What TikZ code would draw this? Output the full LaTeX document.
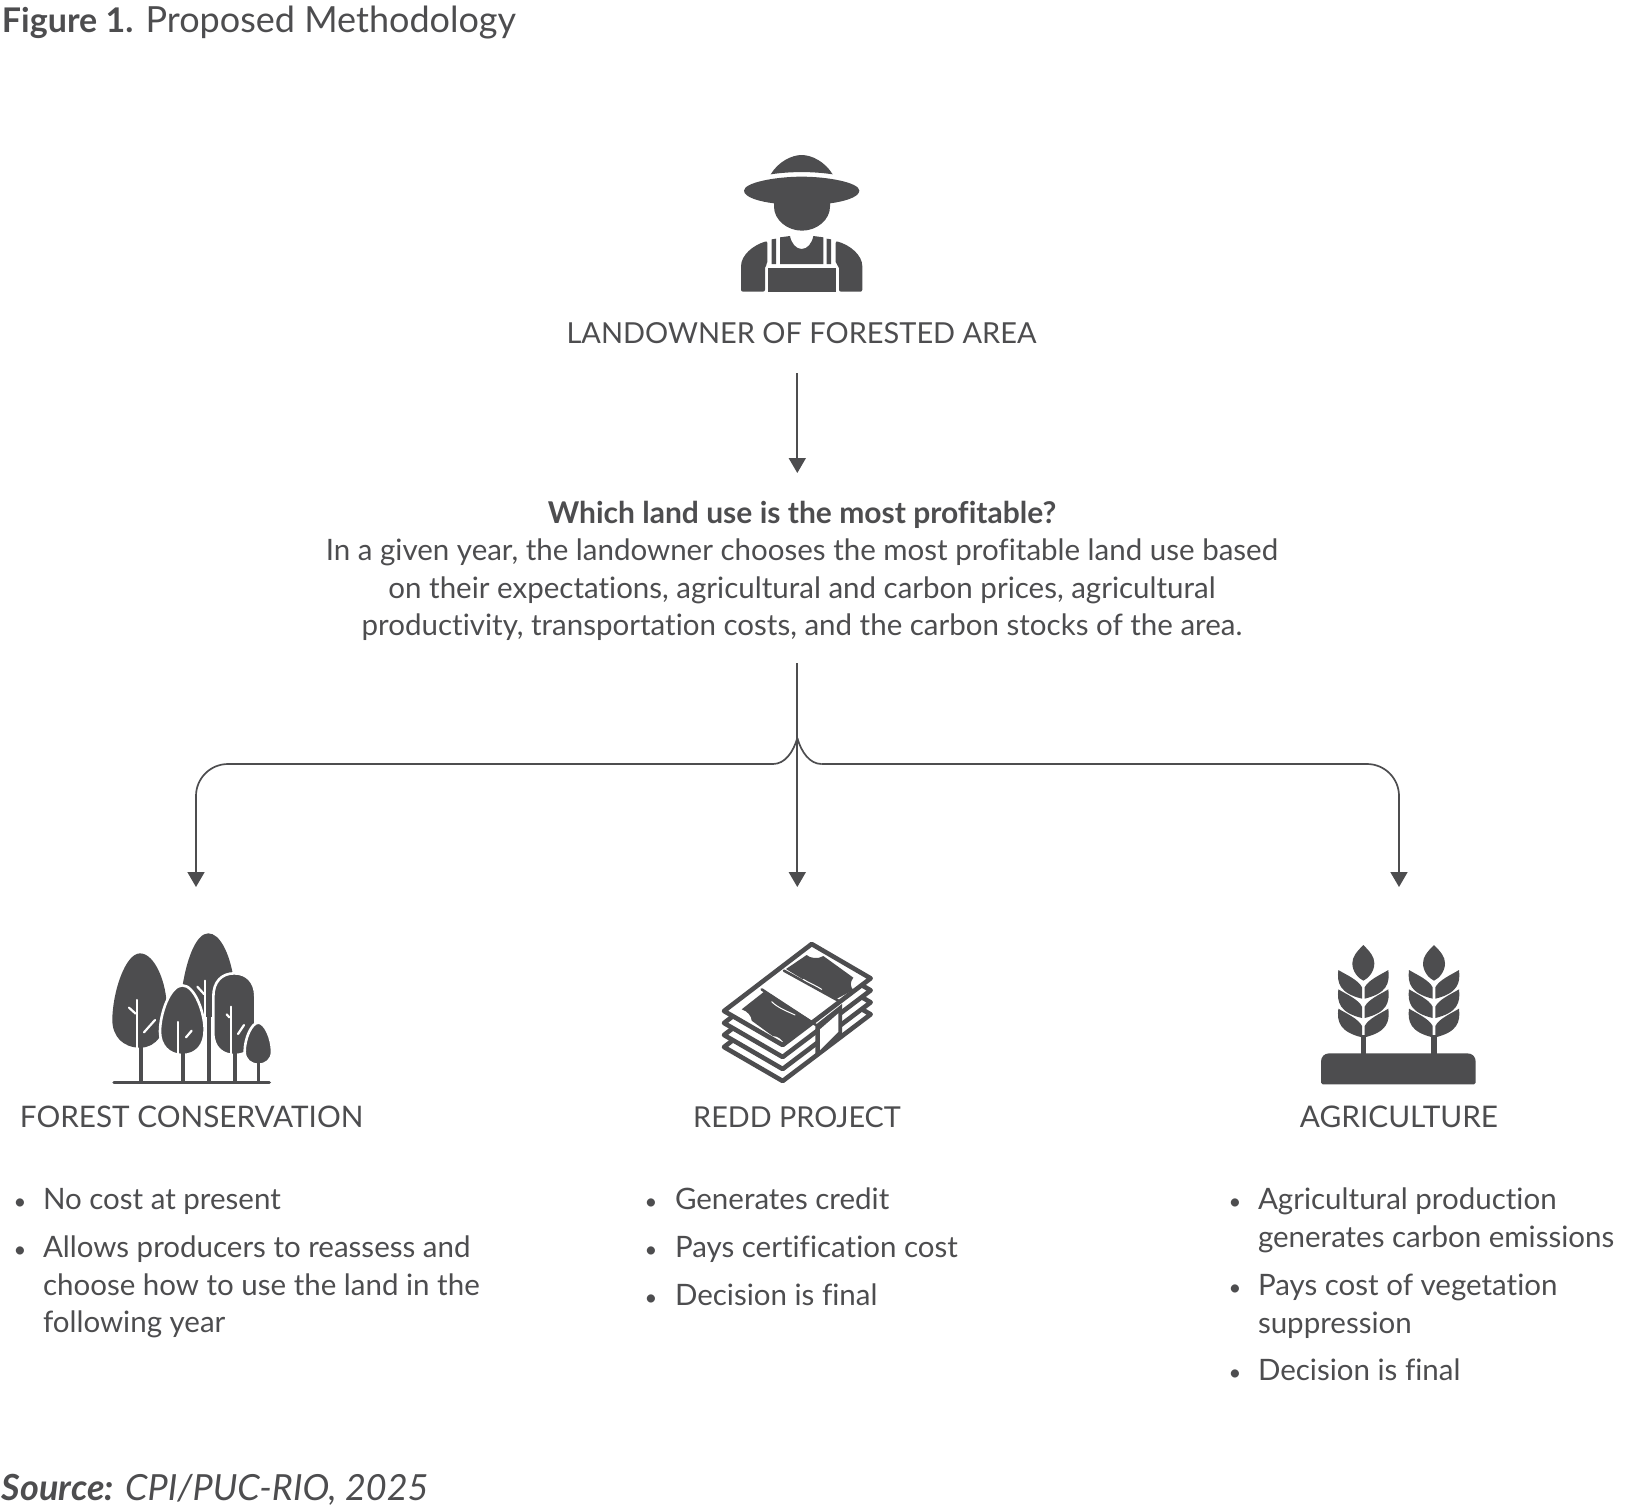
\documentclass[tikz,border=0pt]{standalone}
\usepackage{fontspec}
\setmainfont{Lato}[Ligatures=NoCommon]
\usetikzlibrary{arrows.meta}
\definecolor{ink}{HTML}{4D4D4F}
\newcommand{\bigbold}{\fontsize{15}{18.75}\selectfont\bfseries}
\tikzset{
  every node/.style={inner sep=0pt,outer sep=0pt,text=ink},
  conn/.style={draw=ink,line width=0.85pt},
  arrowconn/.style={conn,-{Triangle[width=8.5pt,length=7.5pt]}},
  titletext/.style={anchor=base west,font=\fontsize{18}{20}\selectfont},
  headtext/.style={anchor=base,font=\fontsize{#1}{18.75}\selectfont},
  bodytext/.style={anchor=north,align=center,font=\fontsize{14.75}{18.75}\selectfont},
  itemtext/.style={anchor=north west,align=left,font=\fontsize{14.75}{18.75}\selectfont},
  bulletmark/.style={anchor=base,font=\fontsize{11}{18.75}\selectfont},
  cutline/.style={draw=white,line width=1.1pt,line cap=round},
  outlined/.style={fill=ink,draw=white,line width=1.3pt},
  iconlocal/.style={scale=1/3},
  moneyline/.style={draw=ink,line width=2.3pt},
}
\begin{document}
\begin{tikzpicture}[x=0.5pt,y=-0.5pt]
\useasboundingbox (0,0) rectangle (1633,1511);

% ---- texts
\node[titletext] (title) at (2,32) {{\fontsize{17}{20}\selectfont\bfseries Figure 1.} Proposed Methodology};
\node[headtext=14.47] (owner) at (801.5,343) {LANDOWNER OF FORESTED AREA};
\node[bodytext] (question) at (802,497) {\strut{\bigbold Which land use is the most profitable?}\\
In a given year, the landowner chooses the most profitable land use based\\
on their expectations, agricultural and carbon prices, agricultural\\
productivity, transportation costs, and the carbon stocks of the area.};

\node[headtext=14.85] (forest) at (191.6,1127) {FOREST CONSERVATION};
\node[headtext=14.4] (redd) at (797,1127) {REDD PROJECT};
\node[headtext=14.9] (agri) at (1399,1127) {AGRICULTURE};

\node[bulletmark] (fb1) at (20,1209) {•};
\node[itemtext] (fi1) at (43,1183.5) {\strut No cost at present};
\node[bulletmark] (fb2) at (20,1257) {•};
\node[itemtext] (fi2) at (43,1231.5) {\strut Allows producers to reassess and\\choose how to use the land in the\\following year};

\node[bulletmark] (rb1) at (651,1209) {•};
\node[itemtext] (ri1) at (675,1183.5) {\strut Generates credit};
\node[bulletmark] (rb2) at (651,1257) {•};
\node[itemtext] (ri2) at (675,1231.5) {\strut Pays certification cost};
\node[bulletmark] (rb3) at (651,1305) {•};
\node[itemtext] (ri3) at (675,1279.5) {\strut Decision is final};

\node[bulletmark] (ab1) at (1235,1209) {•};
\node[itemtext] (ai1) at (1258,1183.5) {\strut Agricultural production\\generates carbon emissions};
\node[bulletmark] (ab2) at (1235,1295) {•};
\node[itemtext] (ai2) at (1258,1269.5) {\strut Pays cost of vegetation\\suppression};
\node[bulletmark] (ab3) at (1235,1380) {•};
\node[itemtext] (ai3) at (1258,1354.5) {\strut Decision is final};

\node[titletext] (source) at (2,1500) {\itshape\textbf{Source:} CPI/PUC-RIO, 2025};

% ---- connectors
\coordinate (ownerout) at (797.3,373);
\coordinate (questionin) at (797.3,473);
\coordinate (questionout) at (797.3,663);
\coordinate (fork) at (797.3,738);
\coordinate (forkleft) at (773,764);
\coordinate (forkright) at (821.6,764);
\coordinate (forestin) at (196,887);
\coordinate (reddin) at (797.3,887);
\coordinate (agriin) at (1399,887);
\coordinate (railleft) at (196,764);
\coordinate (railright) at (1399,764);

\draw[arrowconn] (ownerout) -- (questionin);
\draw[arrowconn] (questionout) -- (reddin);
\draw[conn] (fork) .. controls +(-4,14) and +(12,0) .. (forkleft);
\draw[conn] (fork) .. controls +(4,14) and +(-12,0) .. (forkright);
\draw[arrowconn,rounded corners=16pt] (forkleft) -- (railleft) -- (forestin);
\draw[arrowconn,rounded corners=16pt] (forkright) -- (railright) -- (agriin);

% ---- farmer
\begin{scope}[shift={(720,140)},iconlocal]
  \fill[ink] (152,103) .. controls (175,65) and (215,45) .. (245,45) .. controls (275,45) and (315,65) .. (338,103) .. controls (280,94) and (210,94) .. cycle;
  \fill[ink] (72,152) .. controls (72,128) and (165,110) .. (245,110) .. controls (325,110) and (418,128) .. (418,152) .. controls (418,172) and (370,185) .. (330,190)
     -- (330,200) .. controls (330,240) and (290,272) .. (246,272) .. controls (202,272) and (162,240) .. (162,200) -- (162,190) .. controls (120,185) and (72,172) .. (72,152) -- cycle;
  % left shoulder
  \fill[ink,rounded corners=1pt] (63,455) -- (63,385) .. controls (63,345) and (100,315) .. (142,303) -- (142,372) -- (135,378) -- (135,455) -- cycle;
  % right shoulder
  \fill[ink,rounded corners=1pt] (427,455) -- (427,385) .. controls (427,345) and (390,315) .. (347,303) -- (347,372) -- (357,378) -- (357,455) -- cycle;
  % straps
  \fill[ink] (155,298) -- (168,296) -- (168,372) -- (155,372) -- cycle;
  \fill[ink] (320,296) -- (333,298) -- (333,372) -- (320,372) -- cycle;
  % torso
  \fill[ink] (180,292) -- (210,288) .. controls (214,310) and (228,327) .. (245,327) .. controls (262,327) and (276,310) .. (280,288) -- (310,292) -- (310,372) -- (180,372) -- cycle;
  % bib
  \fill[ink] (145,385) rectangle (347,455);
\end{scope}

% ---- trees
\begin{scope}[shift={(100,920)},iconlocal]
  % back tree
  \fill[ink] (248,195) .. controls (262,110) and (290,40) .. (325,40) .. controls (360,40) and (388,100) .. (400,170) -- (400,300) -- (250,300) -- cycle;
  % tree 1
  \fill[ink] (120,100) .. controls (165,100) and (200,190) .. (200,260) .. controls (200,340) and (170,383) .. (120,383) .. controls (70,383) and (37,350) .. (37,300) .. controls (37,220) and (75,100) .. (120,100) -- cycle;
  \draw[cutline] (111,240) -- (111,388);
  \draw[cutline] (87,263) -- (107,281);
  \draw[cutline] (165,300) -- (132,337);
  \fill[ink] (116,375) rectangle (128,488);
  % back tree trunk
  \draw[cutline] (316,182) -- (316,300);
  \draw[cutline] (292,200) -- (312,222);
  \fill[ink] (322,180) rectangle (334,488);
  \fill[white] (316,290) rectangle (322,488);
  \fill[white] (334,290) rectangle (340,488);
  % tree 4
  \draw[outlined] (340,230) .. controls (340,185) and (365,160) .. (403,160) .. controls (440,160) and (466,185) .. (466,230) -- (466,340) .. controls (466,385) and (440,405) .. (403,405) .. controls (370,405) and (340,385) .. (340,340) -- cycle;
  \draw[cutline] (392,260) -- (392,405);
  \draw[cutline] (380,283) -- (388,292);
  \draw[cutline] (432,315) -- (414,342);
  \fill[ink] (398,395) rectangle (411,488);
  % tree 3
  \draw[outlined] (247,196) .. controls (285,196) and (314,280) .. (314,330) .. controls (314,375) and (290,405) .. (247,405) .. controls (205,405) and (180,375) .. (180,335) .. controls (180,280) and (210,196) .. (247,196) -- cycle;
  \draw[cutline] (235,306) -- (235,402);
  \draw[cutline] (275,332) -- (258,352);
  \fill[ink] (243,395) rectangle (256,488);
  % tree 5
  \draw[outlined] (475,308) .. controls (495,308) and (516,355) .. (516,395) .. controls (516,420) and (498,434) .. (475,434) .. controls (452,434) and (434,420) .. (434,395) .. controls (434,355) and (455,308) .. (475,308) -- cycle;
  \fill[ink] (470,425) rectangle (481,488);
  % ground
  \draw[ink,line width=1.7pt,line cap=round] (42,488) -- (508,488);
\end{scope}

% ---- money stack
\begin{scope}[shift={(710,930)},iconlocal,line join=round,line cap=round]
  \foreach \dy in {108,72,36} {
    \draw[moneyline,fill=white,shift={(0,\dy)}] (305,42) -- (482,145) -- (218,345) -- (42,243) -- cycle;
  }
  % band side
  \fill[ink] (316,285) -- (396,222) -- (396,312) -- (316,380) -- cycle;
  % top bill
  \draw[moneyline,fill=white] (305,42) -- (482,145) -- (218,345) -- (42,243) -- cycle;
  \fill[white] (330,298) -- (385,250) -- (385,305) -- (330,360) -- cycle;
  % band on the top face
  \draw[ink,line width=1.3pt] (222,122) -- (385,212);
  \draw[ink,line width=1.3pt] (155,178) -- (318,285);
  % printed bills
  \fill[ink] (95,238) -- (165,183) -- (310,275) -- (225,345) .. controls (218,330) and (205,318) .. (188,318) -- (125,272) .. controls (125,258) and (112,243) .. (95,238) -- cycle;
  \fill[ink] (228,117) -- (290,75) .. controls (300,85) and (325,88) .. (340,78) -- (430,143) .. controls (420,155) and (420,170) .. (430,180) -- (377,208) -- cycle;
  \draw[white,line width=0.5pt] (185,215) .. controls (205,235) and (235,245) .. (255,255);
  \draw[white,line width=0.5pt] (280,148) .. controls (295,158) and (315,165) .. (335,178);
\end{scope}

% ---- wheat
\begin{scope}[shift={(1310,930)},iconlocal]
  \fill[ink] (33,458) -- (33,395) .. controls (33,380) and (43,370) .. (58,370) -- (472,370) .. controls (487,370) and (497,380) .. (497,395) -- (497,458) -- (492,463) -- (38,463) -- cycle;
  \foreach \cx in {160,372} {
    \begin{scope}[shift={(\cx,0)}]
      \fill[ink] (-8,315) rectangle (8,372);
      \fill[ink] (0,45) .. controls (20,65) and (33,80) .. (33,100) .. controls (33,125) and (15,145) .. (0,152) .. controls (-15,145) and (-33,125) .. (-33,100) .. controls (-33,80) and (-20,65) .. (0,45) -- cycle;
      \foreach \oy in {0,58,116} {
        \foreach \sgn in {1,-1} {
          \fill[ink,shift={(0,\oy)},xscale=\sgn] (4,172) .. controls (15,150) and (50,135) .. (75,120) .. controls (80,160) and (70,190) .. (4,206) -- cycle;
        }
      }
    \end{scope}
  }
\end{scope}
\end{tikzpicture}
\end{document}
